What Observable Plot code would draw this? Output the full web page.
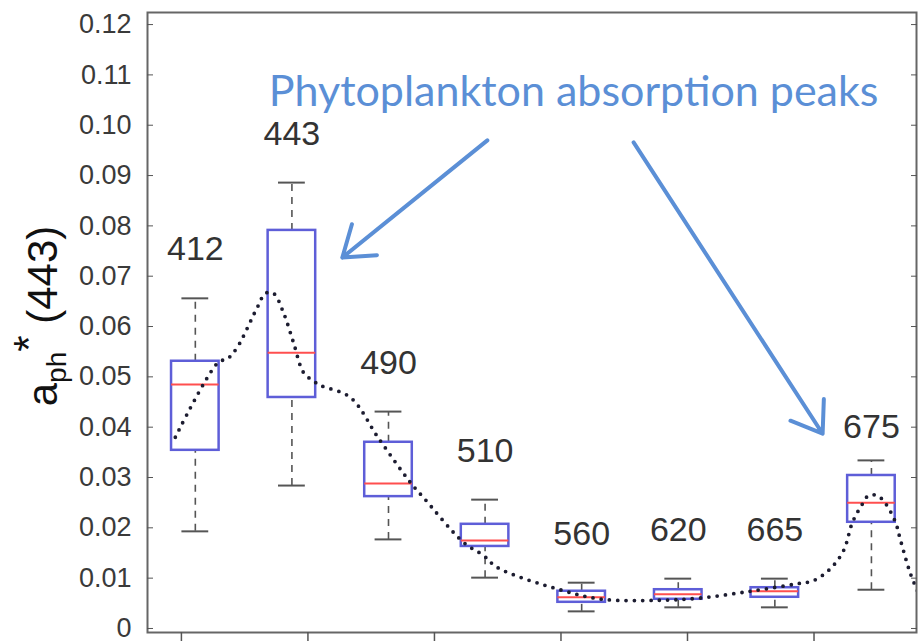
<!DOCTYPE html>
<html>
<head>
<meta charset="utf-8">
<script src="https://cdn.jsdelivr.net/npm/d3@7"></script>
<script src="https://cdn.jsdelivr.net/npm/@observablehq/plot@0.6"></script>
<style>
  html, body { margin: 0; padding: 0; background: #fff; }
  #chart { width: 922px; height: 643px; }
</style>
</head>
<body>
<div id="chart"></div>
<script>
// ---- data ----
const bands       = ["412", "443", "490", "510", "560", "620", "665", "675"];
const whiskerLow  = [0.0193, 0.0284, 0.0177, 0.0101, 0.0034, 0.0042, 0.0042, 0.0077];
const quart1      = [0.0354, 0.0459, 0.0262, 0.0163, 0.0052, 0.0058, 0.0062, 0.0211];
const median      = [0.0485, 0.0548, 0.0288, 0.0175, 0.0062, 0.0068, 0.0074, 0.0250];
const quart3      = [0.0531, 0.0791, 0.0370, 0.0207, 0.0074, 0.0077, 0.0081, 0.0304];
const whiskerHigh = [0.0656, 0.0886, 0.0431, 0.0256, 0.0091, 0.0099, 0.0099, 0.0334];

// mean spectrum (dotted curve): wavelength (nm) and value
const meanWavelength = [397.6, 414.6, 418.2, 422.0, 430.0, 433.2, 436.4, 440.3, 444.3, 448.2, 451.8, 455.0,
  466.8, 477.9, 490.5, 495.7, 511.5, 519.4, 524.9, 551.0, 566.4, 588.1, 604.0, 624.9, 643.5, 649.8,
  656.5, 661.7, 665.2, 669.2, 671.5, 675.1, 678.3, 682.2, 684.2, 688.1, 691.3];
const meanValue = [0.0380, 0.0529, 0.0536, 0.0558, 0.0638, 0.0666, 0.0666, 0.0628, 0.0568, 0.0509, 0.0493, 0.0483,
  0.0459, 0.0378, 0.0290, 0.0260, 0.0171, 0.0145, 0.0121, 0.0075, 0.0058, 0.0056, 0.0060, 0.0074, 0.0089, 0.0095,
  0.0119, 0.0155, 0.0211, 0.0248, 0.0264, 0.0264, 0.0248, 0.0211, 0.0175, 0.0109, 0.0070];

const yTicks = [0, 0.01, 0.02, 0.03, 0.04, 0.05, 0.06, 0.07, 0.08, 0.09, 0.10, 0.11, 0.12];
const xTicks = [400, 450, 500, 550, 600, 650];

const annotationText = "Phytoplankton absorption peaks";
const annotationPos = {x: 555, y: 0.1065};
const arrows = [
  {x1: 520.9, y1: 0.0970, x2: 463.6, y2: 0.0737},
  {x1: 578.7, y1: 0.0966, x2: 653.4, y2: 0.0387}
];

// ---- layout constants ----
const slotStart = 405.5, slotStep = 38.17;  // box slots along the x scale
const boxHalf = 9.4, capHalf = 5.3;
const slotX = i => slotStart + slotStep * i;

const rows = bands.map((b, i) => ({
  band: b, slot: i, lo: whiskerLow[i], q1: quart1[i], med: median[i], q3: quart3[i], hi: whiskerHigh[i]
}));
const curve = meanWavelength.map((w, i) => ({w, v: meanValue[i]}));

const boxColor = "#5e5ed8";
const medColor = "#ff4f4f";
const whiskColor = "#555";
const blue = "#5b8fd6";
const sans = "'Liberation Sans', Arial, sans-serif";

const chart = Plot.plot({
  width: 922,
  height: 643,
  marginLeft: 147,
  marginRight: 6,
  marginTop: 12,
  marginBottom: 11,
  style: {fontFamily: sans, background: "#fff", overflow: "visible"},
  x: {domain: [386.6, 690.5], axis: null},
  y: {domain: [-0.0008, 0.1224], axis: null},
  marks: [
    // whiskers
    Plot.ruleX(rows, {x: d => slotX(d.slot), y1: "q3", y2: "hi", stroke: whiskColor, strokeWidth: 1.6, strokeDasharray: "7,6"}),
    Plot.ruleX(rows, {x: d => slotX(d.slot), y1: "lo", y2: "q1", stroke: whiskColor, strokeWidth: 1.6, strokeDasharray: "7,6"}),
    Plot.ruleY(rows, {y: "hi", x1: d => slotX(d.slot) - capHalf, x2: d => slotX(d.slot) + capHalf, stroke: whiskColor, strokeWidth: 2}),
    Plot.ruleY(rows, {y: "lo", x1: d => slotX(d.slot) - capHalf, x2: d => slotX(d.slot) + capHalf, stroke: whiskColor, strokeWidth: 2}),
    // boxes
    Plot.rect(rows, {x1: d => slotX(d.slot) - boxHalf, x2: d => slotX(d.slot) + boxHalf, y1: "q1", y2: "q3", fill: "none", stroke: boxColor, strokeWidth: 2.5}),
    Plot.ruleY(rows, {y: "med", x1: d => slotX(d.slot) - boxHalf, x2: d => slotX(d.slot) + boxHalf, stroke: medColor, strokeWidth: 2}),
    // mean spectrum dotted curve
    Plot.line(curve, {x: "w", y: "v", stroke: "#1c1c30", strokeWidth: 3.8, strokeDasharray: "0,8.3", strokeLinecap: "round", curve: "catmull-rom", clip: true}),
    // band labels
    Plot.text(rows, {x: d => slotX(d.slot), y: d => d.hi + (d.band === "675" ? 0.0067 : 0.0097), text: "band", fontSize: 34, fill: "#333", fontFamily: sans}),
    // annotation
    Plot.text([annotationText], {x: () => annotationPos.x, y: () => annotationPos.y, text: d => d, fontSize: 43, fill: blue, fontFamily: "Lato, 'Open Sans', sans-serif"}),
    Plot.arrow(arrows, {x1: "x1", y1: "y1", x2: "x2", y2: "y2", stroke: blue, strokeWidth: 4, headLength: 13, headAngle: 70}),
    // frame and axes
    Plot.frame({stroke: "#666", strokeWidth: 2}),
    Plot.axisY({ticks: yTicks, anchor: "left", tickSize: 0, tickPadding: 16, tickFormat: d => d === 0 ? "0" : d.toFixed(2), fontSize: 27, fill: "#3a3a3a", label: null}),
    Plot.axisY({ticks: yTicks, anchor: "left", tickSize: 6, dx: 6, tickFormat: () => "", label: null, stroke: "#555"}),
    Plot.axisY({ticks: yTicks, anchor: "right", tickSize: 6, dx: -6, tickFormat: () => "", label: null, stroke: "#555"}),
    Plot.axisX({ticks: xTicks, anchor: "bottom", tickSize: 9, tickFormat: () => "", label: null, stroke: "#555", strokeWidth: 1.5})
  ]
});

document.getElementById("chart").appendChild(chart);

// y-axis title with subscript / superscript
const svg = d3.select(chart);
svg.append("text")
  .attr("transform", "translate(57,316) rotate(-90)")
  .attr("text-anchor", "middle")
  .attr("font-family", sans)
  .attr("font-size", 42)
  .attr("fill", "#111")
  .call(t => {
    t.append("tspan").text("a");
    t.append("tspan").attr("font-size", 28).attr("dy", 9).text("ph");
    t.append("tspan").attr("font-size", 42).attr("dy", -23).text("*");
    t.append("tspan").attr("dy", 14).text(" (443)");
  });
</script>
</body>
</html>
